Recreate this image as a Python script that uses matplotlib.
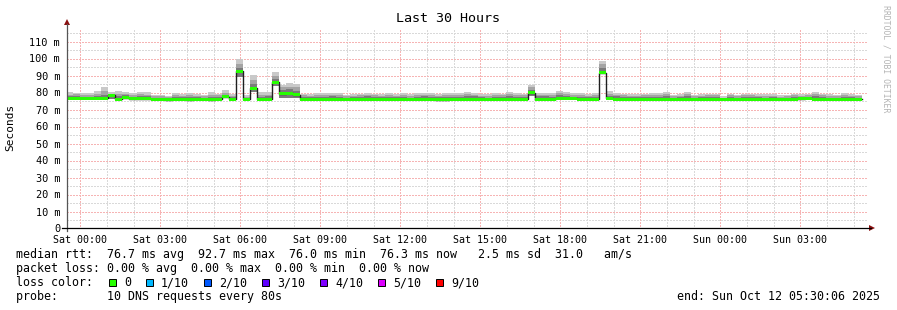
import numpy as np
import matplotlib
matplotlib.use("Agg")
import matplotlib.pyplot as plt
from matplotlib.lines import Line2D
from matplotlib.patches import Polygon, Rectangle

# ---------------- data ----------------
title = "Last 30 Hours"
y_label = "Seconds"
watermark = "RRDTOOL / TOBI OETIKER"

x_tick_hours = [0, 3, 6, 9, 12, 15, 18, 21, 24, 27]
x_tick_labels = ["Sat 00:00", "Sat 03:00", "Sat 06:00", "Sat 09:00", "Sat 12:00",
                 "Sat 15:00", "Sat 18:00", "Sat 21:00", "Sun 00:00", "Sun 03:00"]
y_tick_values = [0, 10, 20, 30, 40, 50, 60, 70, 80, 90, 100, 110]
y_tick_labels = ["0", "10 m", "20 m", "30 m", "40 m", "50 m", "60 m", "70 m",
                 "80 m", "90 m", "100 m", "110 m"]

first_sample_hour = -0.56   # start of first consolidated sample (hours from Sat 00:00)
step_minutes = 16           # consolidation step

# median RTT (ms) per step
median = [76.6, 76.6, 76.5, 76.6, 76.6, 76.5, 78.3, 76.1, 76.8, 76.3, 76.4, 76.3,
          75.9, 75.9, 75.8, 75.9, 75.9, 75.8, 75.9, 75.9, 75.8, 75.9, 77.5, 75.9,
          92.5, 75.9, 82.5, 75.9, 75.9, 85.9, 79.3, 79.7, 78.7,
          76.0, 76.0, 76.1, 76.0, 76.0, 76.0, 76.1, 76.0, 76.0, 76.0, 76.0, 76.1,
          76.0, 76.0, 76.0, 76.0, 76.1, 76.0, 76.0, 75.6, 75.6, 76.0, 76.0,
          76.0, 76.1, 76.0, 76.0, 76.0, 76.1, 76.0, 76.0, 76.0,
          79.8,
          76.0, 76.0, 76.0, 76.5, 76.6, 76.5, 76.0, 76.0, 76.0,
          91.6,
          76.5, 76.0, 76.0, 76.0, 76.0, 76.0, 76.0, 76.0,
          76.0, 76.0, 76.0, 76.0, 76.0, 76.0, 76.0, 76.0, 76.0, 76.0, 76.0, 76.0,
          76.0, 76.0, 76.0, 76.0, 76.0, 76.0, 76.0, 76.3, 76.5, 76.0, 76.0, 76.0,
          76.0, 76.0, 76.0, 76.0]

# fastest ping per step
ping_min = [76.2, 76.2, 76.1, 76.2, 76.2, 76.1, 76.0, 75.7, 75.9, 75.9, 76.0, 75.9,
            75.5, 75.5, 75.4, 75.5, 75.5, 75.4, 75.5, 75.5, 75.4, 75.5, 76.6, 75.5,
            89.3, 75.5, 80.5, 75.5, 75.5, 83.7, 76.8, 76.8, 76.8,
            75.6, 75.6, 75.7, 75.6, 75.6, 75.6, 75.7, 75.6, 75.6, 75.6, 75.6, 75.7,
            75.6, 75.6, 75.6, 75.6, 75.7, 75.6, 75.6, 75.2, 75.2, 75.6, 75.6,
            75.6, 75.7, 75.6, 75.6, 75.6, 75.7, 75.6, 75.6, 75.6,
            78.2,
            75.6, 75.6, 75.6, 76.1, 76.2, 76.1, 75.6, 75.6, 75.6,
            91.0,
            76.1, 75.6, 75.6, 75.6, 75.6, 75.6, 75.6, 75.6,
            75.6, 75.6, 75.6, 75.6, 75.6, 75.6, 75.6, 75.6, 75.6, 75.6, 75.6, 75.6,
            75.6, 75.6, 75.6, 75.6, 75.6, 75.6, 75.6, 75.9, 76.1, 75.6, 75.6, 75.6,
            75.6, 75.6, 75.6, 75.6]

# slowest ping per step
ping_max = [80.2, 80.0, 79.8, 79.8, 80.8, 83.1, 80.2, 80.8, 80.4, 79.8, 80.2, 80.4,
            78.8, 78.8, 77.9, 79.6, 79.2, 79.6, 79.2, 78.8, 80.2, 79.2, 81.4, 79.4,
            100.0, 78.5, 90.2, 80.2, 80.2, 92.1, 84.7, 85.5, 84.9,
            79.4, 79.2, 79.6, 79.8, 79.8, 79.6, 78.6, 79.2, 79.4, 79.6, 79.4, 79.4,
            79.6, 79.2, 79.6, 79.2, 79.6, 80.0, 79.6, 79.4, 80.0, 79.8, 79.6,
            80.2, 80.0, 79.2, 79.2, 79.6, 79.4, 80.2, 79.6, 79.4,
            84.7,
            80.0, 80.0, 79.8, 80.8, 80.2, 79.6, 79.6, 79.2, 79.6,
            98.4,
            80.8, 80.0, 79.4, 79.4, 79.2, 79.4, 79.6, 79.6,
            80.2, 78.8, 79.4, 80.2, 78.8, 79.4, 79.4, 79.4, 77.8, 79.4, 78.8, 79.2,
            79.2, 79.4, 79.2, 79.2, 78.4, 78.8, 79.4, 79.4, 79.4, 80.2, 79.2, 79.2,
            78.8, 79.6, 79.2, 78.8]

# upper edge of the middle smoke band (inner pings)
ping_mid = [78.8, 79.0, 78.6, 78.4, 79.0, 80.8, 79.4, 79.2, 79.3, 78.6, 79.0, 78.8,
            78.0, 78.0, 77.4, 78.4, 78.2, 78.6, 78.2, 77.8, 78.6, 78.4, 80.0, 78.2,
            96.5, 77.6, 87.5, 78.6, 78.8, 89.6, 83.0, 83.5, 83.0,
            78.4, 78.2, 78.6, 78.6, 78.8, 78.4, 77.8, 78.2, 78.6, 78.8, 78.4, 78.2,
            78.6, 78.2, 78.6, 78.0, 78.4, 78.8, 78.6, 78.2, 78.8, 78.6, 78.4,
            79.0, 78.8, 78.2, 78.0, 78.6, 78.4, 79.0, 78.4, 78.6,
            83.0,
            78.8, 78.8, 78.6, 79.6, 79.2, 78.6, 78.4, 78.2, 78.6,
            96.5,
            79.4, 78.8, 78.4, 78.2, 78.2, 78.4, 78.6, 78.4,
            79.0, 77.8, 78.2, 79.0, 77.8, 78.2, 78.4, 78.6, 77.0, 78.4, 77.8, 78.4,
            78.6, 78.2, 78.0, 78.2, 77.6, 77.8, 78.6, 78.2, 78.4, 79.0, 78.4, 78.0,
            77.8, 78.6, 78.2, 77.8]

# upper edge of the dark smoke core
ping_core = [77.8, 78.2, 77.6, 77.4, 78.0, 78.6, 78.9, 78.0, 78.4, 77.6, 78.0, 77.8,
             77.0, 77.0, 76.8, 77.4, 77.2, 77.6, 77.2, 77.0, 77.6, 77.4, 78.8, 77.2,
             94.5, 76.8, 85.0, 77.6, 77.8, 88.2, 81.5, 82.0, 81.0,
             77.4, 77.2, 77.6, 77.4, 77.8, 77.4, 76.9, 77.2, 77.6, 77.8, 77.4, 77.2,
             77.6, 77.2, 77.6, 77.0, 77.4, 77.8, 77.6, 77.2, 77.6, 77.6, 77.4,
             78.0, 77.8, 77.2, 77.0, 77.6, 77.4, 78.0, 77.4, 77.6,
             81.5,
             77.8, 77.8, 77.6, 78.4, 78.2, 77.6, 77.4, 77.2, 77.6,
             94.5,
             78.2, 77.8, 77.4, 77.2, 77.2, 77.4, 77.6, 77.4,
             78.0, 76.9, 77.2, 78.0, 76.9, 77.2, 77.4, 77.6, 76.6, 77.4, 76.9, 77.4,
             77.6, 77.2, 77.0, 77.2, 76.8, 76.9, 77.6, 77.2, 77.6, 78.0, 77.4, 77.0,
             76.9, 77.6, 77.2, 76.9]

stats_lines = [
    "median rtt:  76.7 ms avg  92.7 ms max  76.0 ms min  76.3 ms now   2.5 ms sd  31.0   am/s",
    "packet loss: 0.00 % avg  0.00 % max  0.00 % min  0.00 % now",
]
loss_title = "loss color:"
loss_labels = ["0", "1/10", "2/10", "3/10", "4/10", "5/10", "9/10"]
loss_colors = ["#26ff00", "#00b8ff", "#0059ff", "#5e00ff", "#7e00ff", "#dd00ff", "#ff0000"]
probe_line = "probe:       10 DNS requests every 80s"
end_text = "end: Sun Oct 12 05:30:06 2025"

# ---------------- drawing ----------------
W, H = 897, 310
DPI = 100
MONO = "DejaVu Sans Mono"

fig = plt.figure(figsize=(W / DPI, H / DPI), dpi=DPI)
fig.patch.set_facecolor("white")

PL, PR, PB, PT = 67, 867, 228.5, 28.5
ax = fig.add_axes([PL / W, 1 - PB / H, (PR - PL) / W, (PB - PT) / H])
ax.set_facecolor("white")
ax.set_xlim(-0.5, 29.5)
ax.set_ylim(0, 200 / 1.7)
for s in ax.spines.values():
    s.set_visible(False)

n = len(median)
edges = first_sample_hour + np.arange(n + 1) * step_minutes / 60.0

def ext(a):
    a = np.asarray(a, dtype=float)
    return np.append(a, a[-1])

lo = ext(ping_min)
# grid (dotted, 1px on / 1px off)
dot = (0, (1.4, 1.4))
gkw = dict(lw=0.72, ls=dot, antialiased=False)
for h in range(0, 30):
    if h % 3 != 0:
        ax.axvline(h, color="#d9d9d9", zorder=1, **gkw)
for v in range(5, 118, 10):
    ax.axhline(v, color="#d9d9d9", zorder=1, **gkw)
for h in x_tick_hours:
    ax.axvline(h, color="#f6b4b4", zorder=1.2, **gkw)
for v in y_tick_values[1:]:
    ax.axhline(v, color="#f6b4b4", zorder=1.2, **gkw)

# smoke
ax.fill_between(edges, lo, ext(ping_max), step="post", color="#c9c9c9", lw=0, zorder=2)
ax.fill_between(edges, lo, ext(ping_mid), step="post", color="#a4a4a4", lw=0, zorder=2.1)
ax.fill_between(edges, lo, ext(ping_core), step="post", color="#7a7a7a", lw=0, zorder=2.2)

# median line + loss-coloured band
med = ext(median)
ax.step(edges, med, where="post", color="#202020", lw=1.0, zorder=3)
half = 1.5 / 1.7
ax.fill_between(edges, med - half, med + half, step="post", color=loss_colors[0], lw=0, zorder=3.5)

# ticks
ax.set_xticks(x_tick_hours)
ax.set_xticklabels(x_tick_labels, family=MONO, fontsize=7.2)
ax.set_yticks(y_tick_values)
ax.set_yticklabels(y_tick_labels, family=MONO, fontsize=7.4)
ax.tick_params(axis="x", length=0, pad=4.5)
ax.tick_params(axis="y", length=0, pad=5.0)

def fx(x):
    return x / W

def fy(y):
    return 1 - y / H

# axes lines with extensions and arrows
fig.add_artist(Line2D([fx(67), fx(67)], [fy(231), fy(24)], color="#555555", lw=0.9))
fig.add_artist(Line2D([fx(62), fx(871)], [fy(228), fy(228)], color="#000000", lw=0.9))
fig.add_artist(Polygon([[fx(67), fy(19)], [fx(64), fy(25)], [fx(70), fy(25)]],
                       closed=True, color="#8b1010", lw=0))
fig.add_artist(Polygon([[fx(875), fy(228)], [fx(869), fy(225)], [fx(869), fy(231)]],
                       closed=True, color="#8b1010", lw=0))

# texts
fig.text(fx(448), fy(19), title, family=MONO, fontsize=9.6, ha="center", va="center")
fig.text(fx(10), fy(127), y_label, family=MONO, fontsize=8, rotation=90,
         ha="center", va="center")
fig.text(fx(886), fy(59), watermark, family=MONO, fontsize=5.9, rotation=270,
         ha="center", va="center", color="#b4b4b4")

LX = 16
FS = 8.4
CW = 7.0
fig.text(fx(LX), fy(254.5), stats_lines[0], family=MONO, fontsize=FS, va="center")
fig.text(fx(LX), fy(268.5), stats_lines[1], family=MONO, fontsize=FS, va="center")
fig.text(fx(LX), fy(282.5), loss_title, family=MONO, fontsize=FS, va="center")
x = 109
for lab, col in zip(loss_labels, loss_colors):
    fig.add_artist(Rectangle((fx(x), fy(286)), 7 / W, 7 / H, facecolor=col,
                             edgecolor="black", lw=0.7))
    fig.text(fx(x + 15), fy(282.5), lab, family=MONO, fontsize=FS, va="center")
    x = x + 15 + CW * len(lab) + 15
fig.text(fx(LX), fy(296.5), probe_line, family=MONO, fontsize=FS, va="center")
fig.text(fx(880), fy(296.5), end_text, family=MONO, fontsize=FS, va="center", ha="right")

fig.savefig("out.png", dpi=DPI, facecolor="white")
